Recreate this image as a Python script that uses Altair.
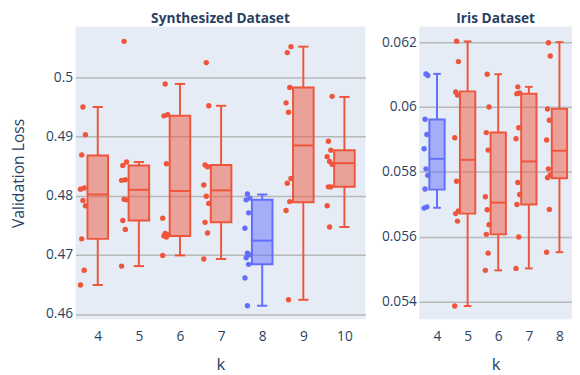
import altair as alt
import pandas as pd

RED = "#EF553B"
BLUE = "#636EFA"
FONT = "Open Sans"
TXT = "#2a3f5f"

# ---------------- Synthesized dataset ----------------
synth_k = [4, 5, 6, 7, 8, 9, 10]
synth_points = [
    [0.4950, 0.4903, 0.4869, 0.4813, 0.4811, 0.4792, 0.4783, 0.4727, 0.4674, 0.4649],
    [0.5061, 0.4857, 0.4851, 0.4827, 0.4826, 0.4794, 0.4793, 0.4758, 0.4743, 0.4681],
    [0.4989, 0.4937, 0.4935, 0.4854, 0.4762, 0.4736, 0.4734, 0.4732, 0.4730, 0.4699],
    [0.5025, 0.4952, 0.4852, 0.4849, 0.4818, 0.4799, 0.4787, 0.4755, 0.4737, 0.4693],
    [0.4803, 0.4796, 0.4793, 0.4771, 0.4745, 0.4703, 0.4700, 0.4695, 0.4684, 0.4661, 0.4614],
    [0.5052, 0.5042, 0.4983, 0.4957, 0.4941, 0.4829, 0.4821, 0.4790, 0.4775, 0.4624],
    [0.4968, 0.4892, 0.4877, 0.4866, 0.4858, 0.4853, 0.4815, 0.4815, 0.4783, 0.4747],
]
synth_q1 = [0.4727, 0.4758, 0.4732, 0.4755, 0.4684, 0.4789, 0.4815]
synth_med = [0.4802, 0.4810, 0.4808, 0.4809, 0.4724, 0.4885, 0.4855]
synth_q3 = [0.4868, 0.4851, 0.4935, 0.4852, 0.4793, 0.4983, 0.4877]
synth_lo = [0.4649, 0.4681, 0.4699, 0.4693, 0.4614, 0.4624, 0.4747]
synth_hi = [0.4950, 0.4857, 0.4989, 0.4952, 0.4802, 0.5052, 0.4967]
synth_best = 8
synth_yticks = [0.46, 0.47, 0.48, 0.49, 0.5]

# ---------------- Iris dataset ----------------
iris_k = [4, 5, 6, 7, 8]
iris_points = [
    [0.06102, 0.06097, 0.05962, 0.05915, 0.05871, 0.05809, 0.05789, 0.05747, 0.05692, 0.05688],
    [0.06203, 0.06140, 0.06046, 0.06037, 0.05905, 0.05771, 0.05679, 0.05671, 0.05648, 0.05386],
    [0.06101, 0.06000, 0.05921, 0.05867, 0.05723, 0.05683, 0.05637, 0.05607, 0.05549, 0.05496],
    [0.06062, 0.06043, 0.06041, 0.05936, 0.05902, 0.05767, 0.05730, 0.05699, 0.05599, 0.05502],
    [0.06198, 0.06157, 0.05994, 0.05959, 0.05898, 0.05809, 0.05790, 0.05782, 0.05684, 0.05552],
]
iris_q1 = [0.05745, 0.05671, 0.05607, 0.05699, 0.05780]
iris_med = [0.05840, 0.05837, 0.05705, 0.05832, 0.05865]
iris_q3 = [0.05961, 0.06048, 0.05921, 0.06041, 0.05994]
iris_lo = [0.05689, 0.05386, 0.05496, 0.05502, 0.05552]
iris_hi = [0.06102, 0.06202, 0.06101, 0.06062, 0.06200]
iris_best = 4
iris_yticks = [0.054, 0.056, 0.058, 0.06, 0.062]


def panel(title, ks, pts, q1, med, q3, lo, hi, best, xdom, ydom, yticks, w, h, ytitle):
    grp = ["best" if k == best else "other" for k in ks]
    boxes = pd.DataFrame({"k": ks, "q1": q1, "med": med, "q3": q3,
                          "lo": lo, "hi": hi, "grp": grp})
    rows = []
    for k, g, vals in zip(ks, grp, pts):
        for v in vals:
            rows.append({"k": k, "v": v, "grp": g})
    points = pd.DataFrame(rows)

    xs = alt.Scale(domain=xdom, nice=False, zero=False)
    ys = alt.Scale(domain=ydom, nice=False, zero=False)
    xax = alt.Axis(values=ks, format="d", title="k", grid=False)
    yax = alt.Axis(values=yticks, format="~g", title=ytitle)
    cscale = alt.Scale(domain=["best", "other"], range=[BLUE, RED])
    col = alt.Color("grp:N", scale=cscale, legend=None)
    stroke = alt.Stroke("grp:N", scale=cscale, legend=None)

    base = alt.Chart(boxes).transform_calculate(
        x0="datum.k - 0.25", x1="datum.k + 0.25",
        c0="datum.k - 0.125", c1="datum.k + 0.125")

    w_lo = base.mark_rule(strokeWidth=2).encode(
        x=alt.X("k:Q", scale=xs, axis=xax),
        y=alt.Y("lo:Q", scale=ys, axis=yax), y2="q1:Q", color=col)
    w_hi = base.mark_rule(strokeWidth=2).encode(
        x=alt.X("k:Q", scale=xs, axis=xax),
        y=alt.Y("q3:Q", scale=ys, axis=yax), y2="hi:Q", color=col)
    cap_lo = base.mark_rule(strokeWidth=2).encode(
        x=alt.X("c0:Q", scale=xs, axis=xax), x2="c1:Q",
        y=alt.Y("lo:Q", scale=ys, axis=yax), color=col)
    cap_hi = base.mark_rule(strokeWidth=2).encode(
        x=alt.X("c0:Q", scale=xs, axis=xax), x2="c1:Q",
        y=alt.Y("hi:Q", scale=ys, axis=yax), color=col)
    box = base.mark_bar(fillOpacity=0.5, strokeWidth=2).encode(
        x=alt.X("x0:Q", scale=xs, axis=xax), x2="x1:Q",
        y=alt.Y("q1:Q", scale=ys, axis=yax), y2="q3:Q",
        fill=col, stroke=stroke)
    median = base.mark_rule(strokeWidth=2).encode(
        x=alt.X("x0:Q", scale=xs, axis=xax), x2="x1:Q",
        y=alt.Y("med:Q", scale=ys, axis=yax), color=col)
    dots = alt.Chart(points).transform_window(
        rn="row_number()"
    ).transform_calculate(
        xj="datum.k - 0.36 + 0.03 * (((datum.rn * 7) % 5) - 2)"
    ).mark_circle(size=30, opacity=1).encode(
        x=alt.X("xj:Q", scale=xs, axis=xax),
        y=alt.Y("v:Q", scale=ys, axis=yax), color=col)

    return alt.layer(w_lo, w_hi, cap_lo, cap_hi, box, median, dots).properties(
        width=w, height=h, title=title)


left = panel("Synthesized Dataset", synth_k, synth_points, synth_q1, synth_med,
             synth_q3, synth_lo, synth_hi, synth_best, [3.46, 10.51],
             [0.4591, 0.5086], synth_yticks, 296, 299, "Validation Loss")
right = panel("Iris Dataset", iris_k, iris_points, iris_q1, iris_med,
              iris_q3, iris_lo, iris_hi, iris_best, [3.42, 8.41],
              [0.05345, 0.06248], iris_yticks, 156, 299, "")

chart = alt.hconcat(left, right, spacing=16).properties(
    padding={"left": 3, "top": 0, "right": 0, "bottom": 2}
).configure_view(
    fill="#E5ECF6", stroke=None
).configure_axis(
    domain=False, ticks=False, gridColor="#b8b8b8", gridWidth=1.5,
    labelFont=FONT, labelColor=TXT, labelFontSize=14, labelPadding=3,
    titleFont=FONT, titleColor=TXT, titleFontSize=16, titleFontWeight="normal"
).configure_axisY(
    titlePadding=19
).configure_axisX(
    labelPadding=11, titlePadding=13, titleFontSize=17
).configure_title(
    font=FONT, fontSize=14, fontWeight="bold", color=TXT, offset=1, anchor="middle"
)

chart.save("out.html", embed_options={"renderer": "svg", "actions": False})
